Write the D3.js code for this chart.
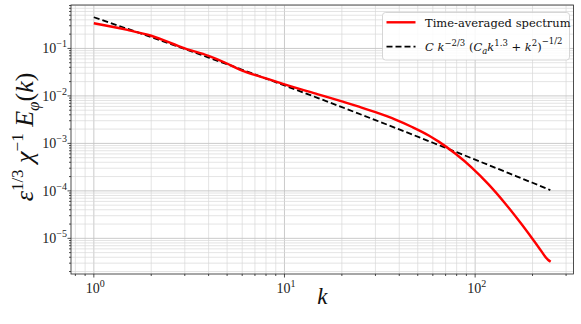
<!DOCTYPE html>
<html>
<head>
<meta charset="utf-8">
<script src="https://cdn.jsdelivr.net/npm/d3@7"></script>
<style>
  body { margin: 0; background: #fff; }
  svg text { font-family: "Liberation Serif", "DejaVu Serif", serif; }
</style>
</head>
<body>
<div id="chart"></div>
<script>

// time-averaged spectrum
var specK = [1, 1.5, 2, 3, 4, 4.86, 6, 8, 10, 15, 20, 25.6, 30, 38.2, 47, 57.1, 64.4, 78.6, 96, 117.3, 143.4, 175, 213.8, 241, 249];
var specE = [0.339, 0.245, 0.185, 0.100, 0.0697, 0.0505, 0.0339, 0.0234, 0.0175, 0.01079, 0.00764, 0.00561,
             0.00453, 0.00316, 0.00219, 0.00147, 0.001089, 0.000611, 0.00031, 0.000139, 5.51e-5, 2.0e-5,
             6.76e-6, 3.54e-6, 3.21e-6];

// model curve (dashed)
var modelK = [1, 1.5, 2, 3, 4, 6, 8, 10, 15, 20, 30, 40, 60, 80, 100, 150, 200, 248];
var modelE = [0.454, 0.259, 0.173, 0.0971, 0.0642, 0.0356, 0.0232, 0.0166, 0.00901, 0.00580, 0.00309,
              0.00197, 0.00103, 0.000652, 0.000455, 0.000236, 0.000148, 0.000104];

var xTicks = [0, 1, 2];            // exponents
var yTicks = [-5, -4, -3, -2, -1]; // exponents
var legendLabels = ["Time-averaged spectrum", "model"];

var width = 581, height = 324;
var margin = {left: 71, right: 7.5, top: 5, bottom: 50};

var svg = d3.select("#chart").append("svg")
            .attr("width", width)
            .attr("height", height);

// matplotlib style 5% padding in log space
function padLog(ext){
  var a = Math.log10(ext[0]), b = Math.log10(ext[1]), p = (b - a) * 0.05;
  return [Math.pow(10, a - p), Math.pow(10, b + p)];
}

var x = d3.scaleLog()
          .domain(padLog(d3.extent(specK.concat(modelK))))
          .range([margin.left, width - margin.right]);

var y = d3.scaleLog()
          .domain(padLog(d3.extent(specE.concat(modelE))))
          .range([height - margin.bottom, margin.top]);

function minorTicks(scale){
  var d = scale.domain(), out = [];
  var lo = Math.floor(Math.log10(d[0])), hi = Math.ceil(Math.log10(d[1]));
  for(var e = lo; e <= hi; e++){
    for(var m = 1; m < 10; m++){
      var v = m * Math.pow(10, e);
      if(v >= d[0] && v <= d[1]) out.push({v: v, major: m == 1});
    }
  }
  return out;
}

var xt = minorTicks(x), yt = minorTicks(y);
var x0 = margin.left, x1 = width - margin.right;
var y0 = height - margin.bottom, y1 = margin.top;

var grid = svg.append("g");

grid.selectAll("line.gx")
  .data(xt)
  .enter()
  .append("line")
  .attr("x1", function(d){ return x(d.v); })
  .attr("x2", function(d){ return x(d.v); })
  .attr("y1", y0)
  .attr("y2", y1)
  .style("stroke", function(d){ return d.major ? "#c4c4c4" : "#d9d9d9"; })
  .style("stroke-width", function(d){ return d.major ? 0.9 : 0.7; });

grid.selectAll("line.gy")
  .data(yt)
  .enter()
  .append("line")
  .attr("y1", function(d){ return y(d.v); })
  .attr("y2", function(d){ return y(d.v); })
  .attr("x1", x0)
  .attr("x2", x1)
  .style("stroke", function(d){ return d.major ? "#c4c4c4" : "#d9d9d9"; })
  .style("stroke-width", function(d){ return d.major ? 0.9 : 0.7; });

// ticks
var ticks = svg.append("g").style("stroke", "#222").style("stroke-width", 0.8);

ticks.selectAll("line.tx")
  .data(xt)
  .enter()
  .append("line")
  .attr("x1", function(d){ return x(d.v); })
  .attr("x2", function(d){ return x(d.v); })
  .attr("y1", y0)
  .attr("y2", function(d){ return y0 + (d.major ? 3.5 : 2); });

ticks.selectAll("line.ty")
  .data(yt)
  .enter()
  .append("line")
  .attr("y1", function(d){ return y(d.v); })
  .attr("y2", function(d){ return y(d.v); })
  .attr("x1", x0)
  .attr("x2", function(d){ return x0 - (d.major ? 3.5 : 2); });

// lines
var line = d3.line()
  .x(function(d){ return x(d[0]); })
  .y(function(d){ return y(d[1]); })
  .curve(d3.curveMonotoneX);

svg.append("path")
  .datum(modelK.map(function(k, i){ return [k, modelE[i]]; }))
  .attr("d", line)
  .style("fill", "none")
  .style("stroke", "#000")
  .style("stroke-width", 1.8)
  .style("stroke-dasharray", "6,3");

svg.append("path")
  .datum(specK.map(function(k, i){ return [k, specE[i]]; }))
  .attr("d", line)
  .style("fill", "none")
  .style("stroke", "#ff0000")
  .style("stroke-width", 2.4)
  .style("stroke-linejoin", "round");

// frame
svg.append("rect")
  .attr("x", x0)
  .attr("y", y1)
  .attr("width", x1 - x0)
  .attr("height", y0 - y1)
  .style("fill", "none")
  .style("stroke", "#222")
  .style("stroke-width", 0.8);

// tick labels as 10^n
function powLabel(g, e){
  g.append("tspan").text("10");
  g.append("tspan")
    .attr("dy", -6)
    .style("font-size", "10px")
    .text(e < 0 ? "\u2212" + (-e) : e);
}

svg.selectAll("text.xl")
  .data(xTicks)
  .enter()
  .append("text")
  .attr("x", function(d){ return x(Math.pow(10, d)) + 1.5; })
  .attr("y", 293)
  .attr("text-anchor", "middle")
  .attr("font-size", "14px")
  .style("fill", "#222")
  .each(function(d){ powLabel(d3.select(this), d); });

svg.selectAll("text.yl")
  .data(yTicks)
  .enter()
  .append("text")
  .attr("x", x0 - 4)
  .attr("y", function(d){ return y(Math.pow(10, d)) + 5; })
  .attr("text-anchor", "end")
  .attr("font-size", "14px")
  .style("fill", "#222")
  .each(function(d){ powLabel(d3.select(this), d); });

// axis titles
svg.append("text")
  .attr("x", (x0 + x1) / 2)
  .attr("y", 304)
  .attr("text-anchor", "middle")
  .attr("font-size", "23px")
  .style("font-style", "italic")
  .style("fill", "#111")
  .text("k");

// parts: [text, italic, shift, size]
function mathText(t, parts){
  var cur = 0;
  parts.forEach(function(p){
    var s = t.append("tspan").text(p[0]);
    var shift = p[2] || 0;
    if(shift != cur){ s.attr("dy", -(shift - cur)); cur = shift; }
    if(p[1]) s.style("font-style", "italic");
    if(p[3]) s.style("font-size", p[3]);
  });
}

var yTitle = svg.append("text")
  .attr("transform", "translate(33,137) rotate(-90)")
  .attr("text-anchor", "middle")
  .attr("font-size", "26px")
  .style("fill", "#111");

mathText(yTitle, [
  ["\u03b5", true, 0],
  ["1/3", false, 10, "17px"],
  [" \u03c7", true, 0],
  ["\u22121", false, 10, "17px"],
  [" E", true, 0],
  ["\u03c6", true, -6, "17px"],
  ["(", false, 0],
  ["k", true, 0],
  [")", false, 0]
]);

// legend
var legend = svg.append("g");

legend.append("rect")
  .attr("x", 382.5)
  .attr("y", 12.5)
  .attr("width", 187)
  .attr("height", 47.5)
  .attr("rx", 3)
  .style("fill", "#fff")
  .style("fill-opacity", 0.85)
  .style("stroke", "#ccc")
  .style("stroke-width", 0.8);

legend.append("line")
  .attr("x1", 386.5).attr("x2", 415.5)
  .attr("y1", 22.3).attr("y2", 22.3)
  .style("stroke", "#ff0000")
  .style("stroke-width", 2.4);

legend.append("line")
  .attr("x1", 386.5).attr("x2", 415.5)
  .attr("y1", 46.7).attr("y2", 46.7)
  .style("stroke", "#000")
  .style("stroke-width", 1.8)
  .style("stroke-dasharray", "6,3");

legend.append("text")
  .attr("x", 425)
  .attr("y", 26.5)
  .attr("font-size", "11.5px")
  .style("font-family", "'DejaVu Serif', serif")
  .style("fill", "#111")
  .text(legendLabels[0]);

var lt = legend.append("text")
  .attr("x", 425)
  .attr("y", 50.5)
  .attr("font-size", "11.5px")
  .style("font-family", "'DejaVu Serif', serif")
  .style("fill", "#111");

mathText(lt, [
  ["C", true, 0],
  [" k", true, 0],
  ["\u22122/3", false, 5, "8.5px"],
  ["  (", false, 0],
  ["C", true, 0],
  ["a", true, -3, "8.5px"],
  ["k", true, 0],
  ["1.3", false, 5, "8.5px"],
  [" + ", false, 0],
  ["k", true, 0],
  ["2", false, 5, "8.5px"],
  [")", false, 0],
  ["\u22121/2", false, 7, "8.5px"]
]);

</script>
</body>
</html>
